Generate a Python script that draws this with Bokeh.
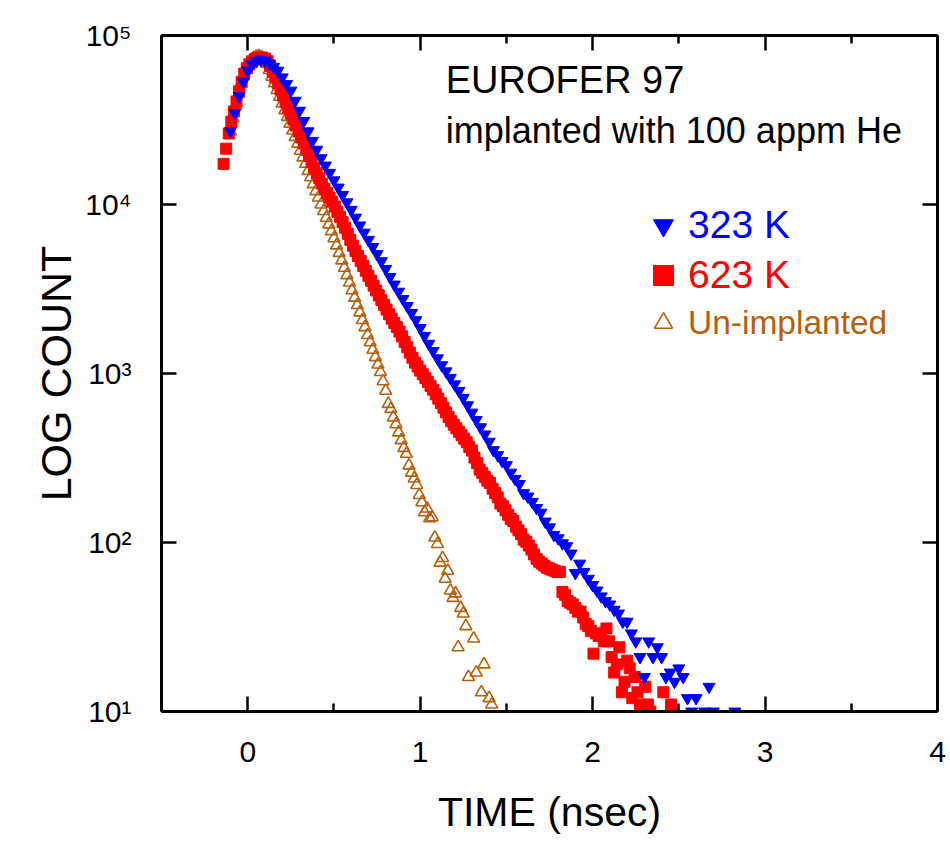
import numpy as np
from bokeh.plotting import figure
from bokeh.models import (Range1d, LinearAxis, LogAxis, Label, Legend, LegendItem,
                          CustomJSTickFormatter, FixedTicker)
from bokeh.embed import file_html
from bokeh.resources import INLINE

# ---------------- data ----------------
# channel grids (start time, channel width in nsec)
t0_323, dt_323 = -0.100, 0.025
t0_623, dt_623 = -0.140, 0.015
t0_unimp, dt_unimp = -0.100, 0.015

counts_323 = [
    27200, 34800, 43800, 53300, 62100, 67600, 70500, 72100, 70800, 68400,
    65300, 61900, 56500, 51600, 47200, 41100, 35900, 31200, 27100, 23800,
    21100, 18800, 17000, 15400, 13900, 12600, 11400, 10300, 9300, 8360,
    7520, 6820, 6180, 5610, 5090, 4620, 4160, 3730, 3360, 3050,
    2760, 2510, 2280, 2070, 1860, 1670, 1500, 1360, 1230, 1120,
    1030, 942, 863, 789, 718, 649, 587, 531, 481, 436,
    395, 352, 329, 304, 287, 259, 238, 222, 196, 187,
    174, 160, 150, 133, 123, 111, 106, 99, 95, 86,
    66, 75, 67, 61, 56, 52, 48, 45, 43, 40,
    38, 34, 34, 29, 26, 21, 16, 26, 21, 24,
    21, 16, 17, 15, 18, 16, 12, 10, 12, 8,
    10, 14, 10, 7, 6, 8, 5, 10,
]

counts_623 = [
    17400, 21400, 26300, 30900, 35500, 40700, 46800, 53300, 59600, 64000,
    67600, 70300, 72400, 73600, 74100, 74000, 72800, 70500, 66100, 61000,
    56600, 52000, 47900, 44000, 40500, 37000, 34400, 31800, 29300, 27000,
    24900, 23000, 21100, 19400, 17800, 16400, 15300, 14300, 13300, 12400,
    11700, 11000, 10400, 9730, 9060, 8450, 7870, 7290, 6710, 6180,
    5700, 5300, 4950, 4630, 4330, 4050, 3780, 3540, 3310, 3100,
    2900, 2720, 2550, 2390, 2240, 2110, 1990, 1880, 1770, 1660,
    1540, 1430, 1330, 1240, 1160, 1100, 1040, 990, 940, 891,
    845, 802, 753, 710, 667, 627, 589, 553, 522, 498,
    474, 452, 431, 411, 392, 367, 350, 318, 295, 270,
    258, 244, 232, 225, 208, 196, 185, 170, 164, 155,
    146, 138, 134, 124, 118, 112, 104, 101, 96, 91,
    85, 80, 77, 75, 73, 71, 70, 69, 68, 67,
    67, 51, 49, 45, 44, 43, 41, 39, 39, 36,
    33, 32, 30, 22, 29, 28, 28, 26, 31, 26,
    21, 17, 19, 24, 13, 15, 20, 18, 12, 16,
    13, 11, 9, 14, 11, 10, 8, 9, 8, 7,
    13, 8, 6, 11,
]

counts_unimp = [
    27000, 32500, 38500, 45000, 51500, 57500, 63000, 67500, 71000, 73500,
    75000, 75500, 74500, 72000, 68000, 62500, 57000, 52100, 47600, 43400,
    39600, 36100, 33000, 30100, 27400, 25100, 22900, 20800, 19000, 17400,
    15800, 14500, 13200, 12000, 11000, 10000, 9150, 8350, 7620, 6950,
    6310, 5730, 5170, 4670, 4220, 3820, 3450, 3110, 2810, 2540,
    2300, 2070, 1880, 1690, 1530, 1380, 1250, 1130, 1020, 900,
    790, 661, 617, 550, 501, 448, 403, 363, 335, 286,
    259, 239, 219, 191, 173, 151, 159, 139, 141, 107,
    98, 76, 81, 61, 68, 52, 47, 50, 24, 41,
    38, 32, 16, 8, 27, 17, 9, 13, 19, 8,
    12, 11,
]

labels = ["323 K", "623 K", "Un-implanted"]
colors = ["#0000FF", "#FF0000", "#B5600E"]
y_ticks = [10, 100, 1000, 10000, 100000]
x_ticks = [0, 1, 2, 3, 4]
x_minor = [-0.5, 0.5, 1.5, 2.5, 3.5]

time_323 = [round(t0_323 + i * dt_323, 4) for i in range(len(counts_323))]
time_623 = [round(t0_623 + i * dt_623, 4) for i in range(len(counts_623))]
time_unimp = [round(t0_unimp + i * dt_unimp, 4) for i in range(len(counts_unimp))]

FONT = "Liberation Sans"

p = figure(width=950, height=854, x_range=Range1d(-0.5, 4), y_range=Range1d(10, 1e5),
           y_axis_type="log", output_backend="svg", toolbar_location=None,
           min_border_left=161, min_border_right=13, min_border_top=35, min_border_bottom=143)
p.xgrid.visible = False
p.ygrid.visible = False
p.outline_line_color = None
p.background_fill_color = "white"
p.border_fill_color = "white"

sup = CustomJSTickFormatter(code="""
const s = {1:'\u00b9', 2:'\u00b2', 3:'\u00b3', 4:'\u2074', 5:'\u2075', 6:'\u2076'};
const e = Math.round(Math.log10(tick));
return '10' + s[e];
""")

def style_axis(ax, ticks, minor, label_size):
    ax.ticker = FixedTicker(ticks=ticks, minor_ticks=minor)
    ax.axis_line_width = 3
    ax.axis_line_color = "black"
    ax.major_tick_in = 15
    ax.major_tick_out = 0
    ax.minor_tick_in = 8
    ax.minor_tick_out = 0
    ax.major_tick_line_width = 2.5
    ax.minor_tick_line_width = 2.5
    ax.major_label_text_font = FONT
    ax.major_label_text_font_size = label_size
    ax.major_label_text_color = "black"

xb = p.xaxis[0]
style_axis(xb, x_ticks, x_minor, "30px")
xb.major_label_standoff = 30
xb.axis_label = "TIME (nsec)"
xb.axis_label_text_font = FONT
xb.axis_label_text_font_size = "41px"
xb.axis_label_text_font_style = "normal"
xb.axis_label_text_color = "black"
xb.axis_label_standoff = 24

yl = p.yaxis[0]
style_axis(yl, y_ticks, [], "30px")
yl.formatter = sup
yl.major_label_standoff = 30
yl.axis_label = "LOG COUNT"
yl.axis_label_text_font = FONT
yl.axis_label_text_font_size = "43px"
yl.axis_label_text_font_style = "normal"
yl.axis_label_text_color = "black"
yl.axis_label_standoff = 2

# mirrored frame axes (ticks only, labels not drawn)
xt = LinearAxis()
style_axis(xt, x_ticks, x_minor, "1px")
xt.major_label_text_color = None
xt.major_label_standoff = 0
p.add_layout(xt, "above")

yr = LogAxis()
style_axis(yr, y_ticks, [], "1px")
yr.major_label_text_color = None
yr.major_label_standoff = 0
p.add_layout(yr, "right")

r_un = p.scatter(time_unimp, counts_unimp, marker="triangle", size=12,
                 fill_color=None, line_color=colors[2], line_width=1.6)
r_623 = p.scatter(time_623, counts_623, marker="square", size=11,
                  fill_color=colors[1], line_color=colors[1])
r_323 = p.scatter(time_323, counts_323, marker="inverted_triangle", size=12,
                  fill_color=colors[0], line_color=colors[0])

def add_legend(label, rend, color, fsize, gh, loc):
    leg = Legend(items=[LegendItem(label=label, renderers=[rend])], location=loc,
                 label_text_color=color, label_text_font=FONT, label_text_font_size=fsize,
                 glyph_width=50, glyph_height=gh, padding=0, margin=0, spacing=0,
                 label_standoff=0, border_line_color=None, background_fill_color=None)
    p.add_layout(leg)

add_legend(labels[0], r_323, colors[0], "39px", 50, (477, 461))
add_legend(labels[1], r_623, colors[1], "39px", 52, (477, 410))
add_legend(labels[2], r_un, colors[2], "33.5px", 45, (477, 366))

p.add_layout(Label(x=1.148, y=10 ** 4.734, text="EUROFER 97", text_font=FONT,
                   text_font_size="38px", text_baseline="middle", text_color="black"))
p.add_layout(Label(x=1.148, y=10 ** 4.44, text="implanted with 100 appm He", text_font=FONT,
                   text_font_size="36px", text_baseline="middle", text_color="black"))

open("out.html", "w").write(file_html(p, INLINE))
